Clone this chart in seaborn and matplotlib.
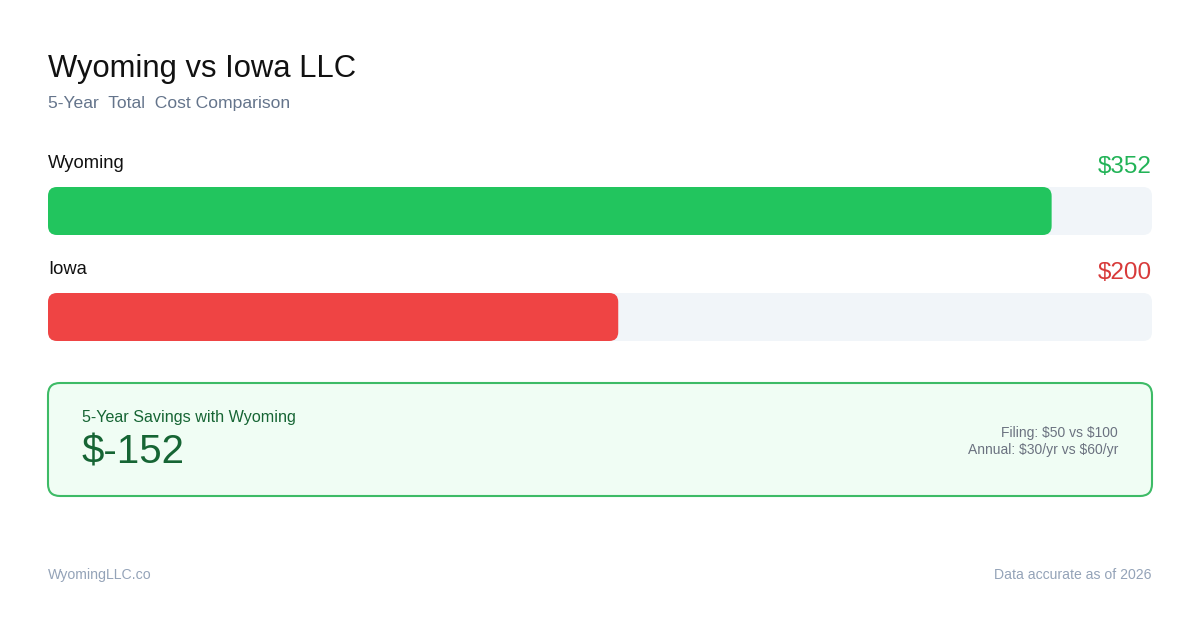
import matplotlib
matplotlib.use("Agg")
import matplotlib.pyplot as plt
from matplotlib.patches import FancyBboxPatch
import seaborn as sns
import pandas as pd

# ---- data ----
states = ["Wyoming", "Iowa"]
totals = [352, 200]
value_labels = ["$352", "$200"]
bar_colors = ["#22c55e", "#ef4444"]
text_colors = ["#22b357", "#d83a3a"]
title = "Wyoming vs Iowa LLC"
subtitle = "5-Year  Total  Cost Comparison"
savings_label = "5-Year Savings with Wyoming"
savings_value = "$-152"
detail_lines = ["Filing: $50 vs $100", "Annual: $30/yr vs $60/yr"]
footer_left = "WyomingLLC.co"
footer_right = "Data accurate as of 2026"

scale_max = max(totals) * 1.1

sns.set_theme(style="white")
plt.rcParams["font.family"] = ["Liberation Sans", "DejaVu Sans"]
plt.rcParams["text.parse_math"] = False

W, H = 1200, 630
fig = plt.figure(figsize=(W / 100, H / 100), dpi=100)
fig.patch.set_facecolor("white")

# full-figure overlay axes in pixel coordinates (for text and the summary box)
bg = fig.add_axes([0, 0, 1, 1])
bg.set_xlim(0, W)
bg.set_ylim(H, 0)
bg.axis("off")

# bar axes
left_px, right_px = 48, 1152
top_px, bot_px = 158, 370
ax = fig.add_axes([left_px / W, 1 - bot_px / H, (right_px - left_px) / W, (bot_px - top_px) / H])
df = pd.DataFrame({"state": states, "total": totals, "track": [scale_max] * len(states)})

bw = 48 / 106
sns.barplot(data=df, y="state", x="track", color="#f1f5f9", width=bw, ax=ax, orient="h",
            saturation=1)
sns.barplot(data=df, y="state", x="total", hue="state", palette=bar_colors, width=bw,
            ax=ax, orient="h", legend=False, saturation=1)
ax.set_xlim(0, scale_max)
ax.set_ylim(1.5, -0.5)
ax.axis("off")

# replace rectangles by rounded ones
xupp = scale_max / (right_px - left_px)
yupp = 2.0 / (bot_px - top_px)
radius_px = 9
rects = list(ax.patches)
for p in rects:
    x0, y0 = p.get_x(), p.get_y()
    w, h = p.get_width(), p.get_height()
    fb = FancyBboxPatch((x0, y0), w, h,
                        boxstyle=f"round,pad=0,rounding_size={radius_px * xupp}",
                        mutation_aspect=yupp / xupp,
                        facecolor=p.get_facecolor(), edgecolor="none", linewidth=0,
                        zorder=p.get_zorder())
    p.remove()
    ax.add_patch(fb)

for i, (name, lab, tc) in enumerate(zip(states, value_labels, text_colors)):
    ax.text(0, i - 0.405, name, ha="left", va="baseline", fontsize=13.2, color="#111111")
    ax.text(scale_max, i - 0.36, lab, ha="right", va="baseline", fontsize=17.5, color=tc)

# title & subtitle
bg.text(48, 77, title, ha="left", va="baseline", fontsize=22.3, color="#111111")
bg.text(48, 108, subtitle, ha="left", va="baseline", fontsize=12.6, color="#64748b")

# summary box
box = FancyBboxPatch((48, 383), 1104, 113, boxstyle="round,pad=0,rounding_size=12",
                     facecolor="#f0fdf4", edgecolor="#3dbb66", linewidth=1.5)
bg.add_patch(box)
bg.text(82, 422, savings_label, ha="left", va="baseline", fontsize=11.6, color="#166534")
bg.text(82, 463, savings_value, ha="left", va="baseline", fontsize=29, color="#166534")
bg.text(1118, 437, detail_lines[0], ha="right", va="baseline", fontsize=10, color="#6b7280")
bg.text(1118, 454, detail_lines[1], ha="right", va="baseline", fontsize=10, color="#6b7280")

# footer
bg.text(48, 579, footer_left, ha="left", va="baseline", fontsize=10.2, color="#94a3b8")
bg.text(1152, 579, footer_right, ha="right", va="baseline", fontsize=10.1, color="#94a3b8")

fig.savefig("out.png", dpi=100, facecolor="white")
